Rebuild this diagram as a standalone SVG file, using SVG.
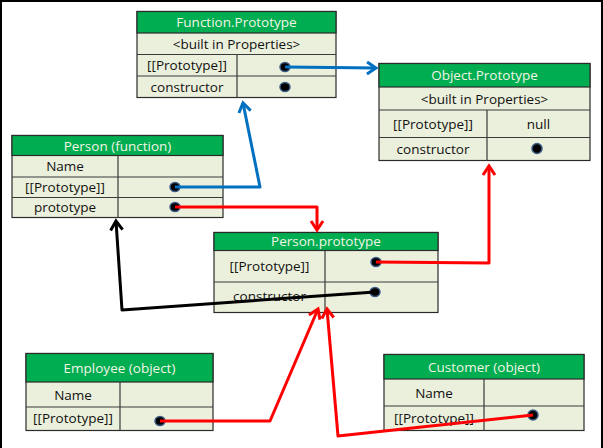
<svg xmlns="http://www.w3.org/2000/svg" width="603" height="448" viewBox="0 0 603 448">
<style>
.hdr{fill:#00AD50;stroke:#2b2b2b;stroke-width:1.2}
.cell{fill:#EBF0DC;stroke:#2b2b2b;stroke-width:1.2}
.ln{stroke:#3a3a3a;stroke-width:1.2;fill:none}
.ht{font-family:"Open Sans","Liberation Sans",Arial,sans-serif;font-size:13.5px;fill:#F2F5E6;text-anchor:middle}
.t{font-family:"Open Sans","Liberation Sans",Arial,sans-serif;font-size:13.5px;fill:#111;text-anchor:middle}
.dot{fill:#000;stroke:#3B5B85;stroke-width:1.5}
.c{fill:none;stroke-width:3;stroke-linejoin:round}
.blue{stroke:#0070C0}
.red{stroke:#FF0000}
.blk{stroke:#000}
</style>
<defs>
<marker id="ab" markerUnits="userSpaceOnUse" markerWidth="20" markerHeight="20" refX="0" refY="0" viewBox="-12 -10 14 20" orient="auto" overflow="visible"><path d="M-9,-6 L0,0 L-9,6" fill="none" stroke="#0070C0" stroke-width="3"/></marker>
<marker id="ar" markerUnits="userSpaceOnUse" markerWidth="20" markerHeight="20" refX="0" refY="0" viewBox="-12 -10 14 20" orient="auto" overflow="visible"><path d="M-9,-6 L0,0 L-9,6" fill="none" stroke="#FF0000" stroke-width="3"/></marker>
<marker id="ak" markerUnits="userSpaceOnUse" markerWidth="20" markerHeight="20" refX="0" refY="0" viewBox="-12 -10 14 20" orient="auto" overflow="visible"><path d="M-9,-6 L0,0 L-9,6" fill="none" stroke="#000" stroke-width="3"/></marker>
</defs>
<rect x="0" y="0" width="603" height="448" fill="#fff"/>
<rect x="1" y="1" width="601" height="470" fill="none" stroke="#000" stroke-width="2"/>

<g id="function-prototype">
<rect class="cell" x="137" y="11.5" width="199" height="86"/>
<rect class="hdr" x="137" y="11.5" width="199" height="21.5"/>
<line class="ln" x1="137" y1="54.5" x2="336" y2="54.5"/>
<line class="ln" x1="137" y1="76" x2="336" y2="76"/>
<line class="ln" x1="237" y1="54.5" x2="237" y2="97.5"/>
<text class="ht" x="236.5" y="27">Function.Prototype</text>
<text class="t" x="236.5" y="48.5">&lt;built in Properties&gt;</text>
<text class="t" x="187" y="70">[[Prototype]]</text>
<text class="t" x="187" y="91.5">constructor</text>
<ellipse class="dot" cx="285" cy="67" rx="5" ry="4.5"/>
<ellipse class="dot" cx="285" cy="87" rx="5" ry="4.5"/>
</g>

<g id="object-prototype">
<rect class="cell" x="379" y="63.5" width="211" height="97"/>
<rect class="hdr" x="379" y="63.5" width="211" height="23.5"/>
<line class="ln" x1="379" y1="110" x2="590" y2="110"/>
<line class="ln" x1="379" y1="137.5" x2="590" y2="137.5"/>
<line class="ln" x1="487" y1="110" x2="487" y2="160.5"/>
<text class="ht" x="484.5" y="80">Object.Prototype</text>
<text class="t" x="484.5" y="103.5">&lt;built in Properties&gt;</text>
<text class="t" x="433" y="129">[[Prototype]]</text>
<text class="t" x="538.5" y="129">null</text>
<text class="t" x="433" y="154">constructor</text>
<ellipse class="dot" cx="537" cy="148.5" rx="5" ry="5"/>
</g>

<g id="person-function">
<rect class="cell" x="12" y="135.5" width="211" height="82"/>
<rect class="hdr" x="12" y="135.5" width="211" height="20"/>
<line class="ln" x1="12" y1="177" x2="223" y2="177"/>
<line class="ln" x1="12" y1="197.5" x2="223" y2="197.5"/>
<line class="ln" x1="118" y1="155.5" x2="118" y2="217.5"/>
<text class="ht" x="117.5" y="150.5">Person (function)</text>
<text class="t" x="65" y="171">Name</text>
<text class="t" x="65" y="192">[[Prototype]]</text>
<text class="t" x="65" y="212">prototype</text>
<ellipse class="dot" cx="175" cy="187" rx="5" ry="4.5"/>
<ellipse class="dot" cx="175" cy="207" rx="5" ry="4.5"/>
</g>

<g id="person-prototype">
<rect class="cell" x="214" y="232.5" width="224" height="80"/>
<rect class="hdr" x="214" y="232.5" width="224" height="18"/>
<line class="ln" x1="214" y1="282" x2="438" y2="282"/>
<line class="ln" x1="325" y1="250.5" x2="325" y2="312.5"/>
<text class="ht" x="326" y="246">Person.prototype</text>
<text class="t" x="269.5" y="271">[[Prototype]]</text>
<text class="t" x="269.5" y="301">constructor</text>
<ellipse class="dot" cx="376" cy="262" rx="5" ry="4.5"/>
<ellipse class="dot" cx="375" cy="292" rx="5" ry="4.5"/>
</g>

<g id="employee-object">
<rect class="cell" x="26" y="353.5" width="187" height="77"/>
<rect class="hdr" x="26" y="353.5" width="187" height="28.5"/>
<line class="ln" x1="26" y1="407" x2="213" y2="407"/>
<line class="ln" x1="120" y1="382" x2="120" y2="430.5"/>
<text class="ht" x="119.5" y="373">Employee (object)</text>
<text class="t" x="73" y="399.5">Name</text>
<text class="t" x="73" y="423">[[Prototype]]</text>
<ellipse class="dot" cx="160" cy="421" rx="5" ry="4.5"/>
</g>

<g id="customer-object">
<rect class="cell" x="384" y="354.5" width="200" height="76"/>
<rect class="hdr" x="384" y="354.5" width="200" height="24.5"/>
<line class="ln" x1="384" y1="406" x2="584" y2="406"/>
<line class="ln" x1="484" y1="379" x2="484" y2="430.5"/>
<text class="ht" x="484" y="372">Customer (object)</text>
<text class="t" x="434" y="398">Name</text>
<text class="t" x="434" y="423">[[Prototype]]</text>
<ellipse class="dot" cx="533" cy="415" rx="5" ry="5"/>
</g>

<g id="connectors">
<path class="c blue" d="M285,67 L376,68" marker-end="url(#ab)"/>
<path class="c blue" d="M175,187 L260,187 L243,103" marker-end="url(#ab)"/>
<path class="c red" d="M175,207 L317,207 L317,230" marker-end="url(#ar)"/>
<path class="c red" d="M376,262 L489,263 L489,166" marker-end="url(#ar)"/>
<path class="c blk" d="M375,292 L122,310 L116,221" marker-end="url(#ak)"/>
<path class="c red" d="M160,421 L270,421 L318,309" marker-end="url(#ar)"/>
<path class="c red" d="M533,415 L338,436 L327,309" marker-end="url(#ar)"/>
</g>
</svg>
